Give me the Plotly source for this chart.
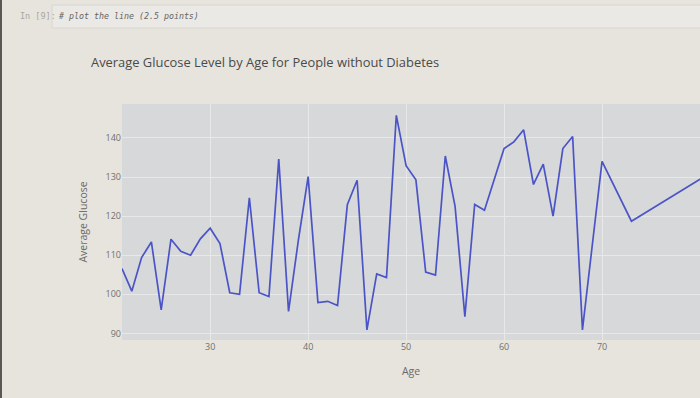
import plotly.graph_objects as go

# ---- data ----
ages = [21, 22, 23, 24, 25, 26, 27, 28, 29, 30,
        31, 32, 33, 34, 35, 36, 37, 38, 39, 40,
        41, 42, 43, 44, 45, 46, 47, 48, 49, 50,
        51, 52, 53, 54, 55, 56, 57, 58, 60, 61,
        62, 63, 64, 65, 66, 67, 68, 70, 73, 81]
avg_glucose = [106.6, 100.8, 109.4, 113.4, 96.0, 114.1, 111.0, 110.0, 114.2, 116.9,
               113.0, 100.4, 100.0, 124.7, 100.4, 99.4, 134.6, 95.6, 113.8, 130.1,
               97.9, 98.2, 97.1, 122.9, 129.2, 90.9, 105.2, 104.3, 145.8, 132.9,
               129.3, 105.7, 104.9, 135.4, 122.5, 94.3, 123.0, 121.5, 137.3, 139.0,
               142.1, 128.1, 133.3, 120.0, 137.3, 140.4, 90.9, 134.0, 118.7, 131.0]
x_ticks = [30, 40, 50, 60, 70, 80]
y_ticks = [90, 100, 110, 120, 130, 140]

title_text = "Average Glucose Level by Age for People without Diabetes"
cell_prompt = "In [9]:"
cell_code = "# plot the line (2.5 points)"

W, H = 700, 398
L, R, T, B = 122, 0, 104, 58
PW, PH = W - L - R, H - T - B
PAPER = "#e7e4dd"


def px(x):
    return (x - L) / PW


def py(y):
    return (H - B - y) / PH


fig = go.Figure()
fig.add_trace(go.Scatter(x=ages, y=avg_glucose, mode="lines",
                         line=dict(color="#4b54c6", width=1.7)))

fig.update_layout(
    width=W, height=H,
    margin=dict(l=L, r=R, t=T, b=B, pad=0),
    paper_bgcolor=PAPER,
    plot_bgcolor="#d7d8da",
    showlegend=False,
    font=dict(family="Open Sans", color="#6a6a6a"),
    title=dict(text=title_text, x=91 / W, xanchor="left", xref="container",
               y=1 - 62 / H, yanchor="middle", yref="container",
               font=dict(size=12.9, color="#4a4a4a", family="Open Sans")),
    xaxis=dict(range=[21, 80], tickvals=x_ticks, showgrid=True, gridcolor="#e8e8e9",
               zeroline=False, automargin=False, ticks="", ticklen=0,
               tickfont=dict(size=9, color="#707070"),
               title=dict(text="Age", font=dict(size=10.5, color="#6a6a6a"))),
    yaxis=dict(range=[88.3, 148.7], tickvals=y_ticks, showgrid=True, gridcolor="#e8e8e9",
               zeroline=False, automargin=False, ticks="",
               tickfont=dict(size=9, color="#707070"),
               title=dict(text="Average Glucose",
                          font=dict(size=10.5, color="#6a6a6a"))),
)

# notebook cell chrome around the figure
fig.add_shape(type="rect", xref="paper", yref="paper",
              x0=px(52), x1=px(705), y0=py(5), y1=py(28),
              fillcolor="#ebe9e5", line=dict(color="#d9d6cf", width=1), layer="below")
fig.add_shape(type="rect", xref="paper", yref="paper",
              x0=px(-5), x1=px(2), y0=py(-5), y1=py(405),
              fillcolor="#5a5855", line=dict(width=0))
fig.add_annotation(text=cell_prompt, xref="paper", yref="paper", x=px(18), y=py(16),
                   xanchor="left", yanchor="middle", showarrow=False,
                   font=dict(family="DejaVu Sans Mono", size=8.5, color="#a8a6a0"))
fig.add_annotation(text="<i>" + cell_code + "</i>", xref="paper", yref="paper",
                   x=px(56), y=py(16), xanchor="left", yanchor="middle", showarrow=False,
                   font=dict(family="DejaVu Sans Mono", size=8.3, color="#666460"))

fig.write_html(
    "out.html",
    config={"displayModeBar": False},
    post_script=("document.body.style.margin='0';"
                 "document.body.style.background='" + PAPER + "';"
                 "document.body.style.overflow='hidden';"),
)
